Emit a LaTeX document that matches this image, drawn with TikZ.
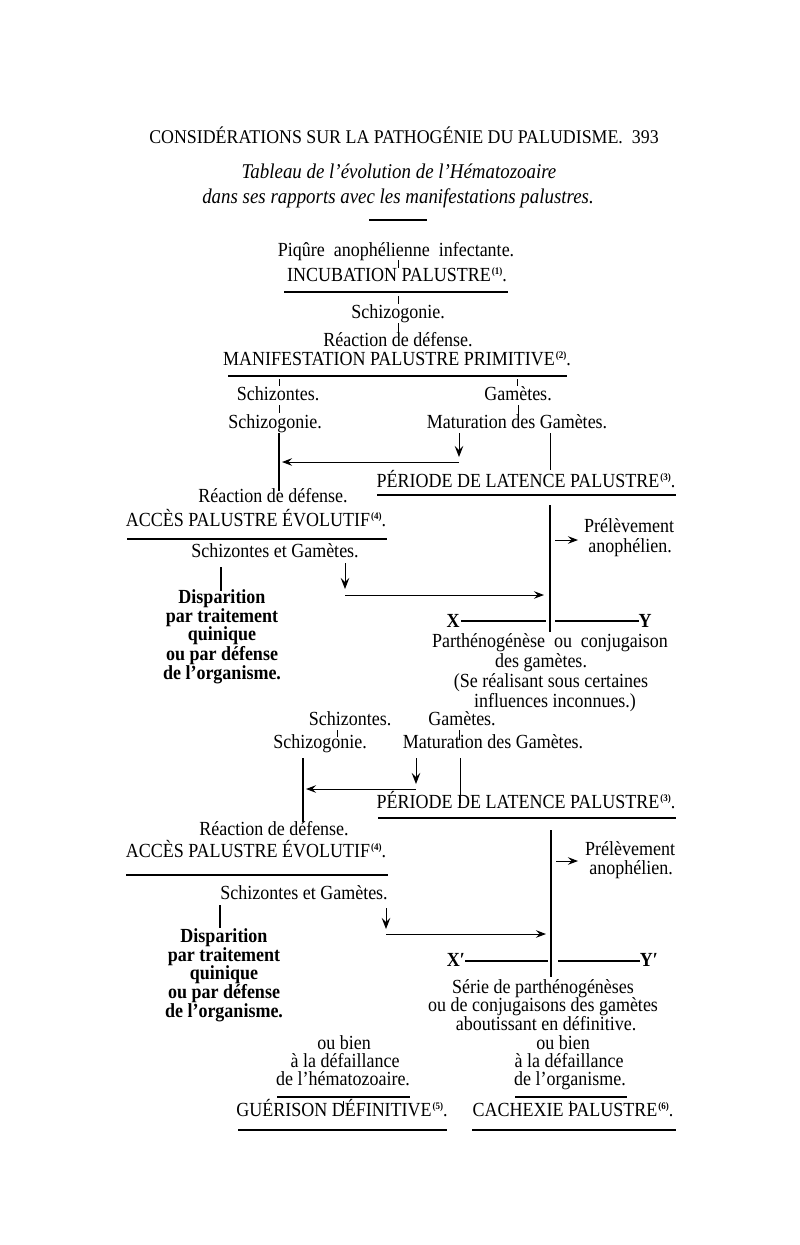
\documentclass[tikz,border=0pt]{standalone}
\usepackage{fontspec}
\setmainfont{Liberation Serif}[FakeStretch=0.9]
\newfontfamily\medf{Liberation Serif}[Ligatures=TeX,FakeStretch=0.9]
\newfontfamily\hdf{Liberation Serif}[Ligatures=TeX,FakeStretch=0.92]
\usetikzlibrary{arrows.meta}
\newcommand\fnum[1]{\kern1pt{\fontsize{10}{10}\selectfont\raisebox{6.5pt}{\bfseries(#1)}}}
\tikzset{
  txt/.style={anchor=base, inner sep=0pt, font=\medf\fontsize{20}{22}\selectfont},
  btxt/.style={anchor=base, inner sep=0pt, font=\fontsize{20}{22}\selectfont\bfseries},
  hdtxt/.style={anchor=base, inner sep=0pt, font=\hdf\fontsize{19.4}{21}\selectfont},
  ittxt/.style={anchor=base, inner sep=0pt, font=\fontsize{21}{23}\selectfont\itshape},
  rulel/.style={line width=1.5pt},
  tick/.style={line width=0.8pt},
  conn/.style={line width=1.1pt},
  arr/.style={line width=1pt, -{Stealth[length=11pt,width=8.5pt,inset=4pt]}},
  sarr/.style={line width=1pt, -{Stealth[length=10pt,width=7.5pt,inset=3.5pt]}},
}
\begin{document}
\begin{tikzpicture}[x=1pt,y=-1pt]
\useasboundingbox[fill=white] (0,0) rectangle (800,1245);

% header and title
\node[hdtxt] (head) at (404,143) {CONSIDÉRATIONS\ SUR\ LA\ PATHOGÉNIE\ DU\ PALUDISME.\hspace{9pt}393};
\node[ittxt] (t1) at (399,178) {Tableau\ de\ l’évolution\ de\ l’Hématozoaire};
\node[ittxt] (t2) at (398,203) {dans\ ses\ rapports\ avec\ les\ manifestations\ palustres.};
\coordinate (r0a) at (369,220); \coordinate (r0b) at (427,220);
\draw[line width=1.2pt] (r0a) -- (r0b);

% top column
\node[txt] (piq) at (396,256) {Piqûre\ \ anophélienne\ \ infectante.};
\node[txt] (inc) at (397,281) {INCUBATION\ PALUSTRE\fnum{1}.};
\coordinate (r1a) at (284,292); \coordinate (r1b) at (508,292);
\draw[rulel] (r1a) -- (r1b);
\node[txt] (sch0) at (398,318) {Schizogonie.};
\node[txt] (rea0) at (398,346) {Réaction de défense.};
\node[txt] (man) at (397,365) {MANIFESTATION PALUSTRE PRIMITIVE\fnum{2}.};
\coordinate (r2a) at (228,376); \coordinate (r2b) at (567,376);
\draw[rulel] (r2a) -- (r2b);

\coordinate (k1a) at (398,260); \coordinate (k1b) at (398,268);
\coordinate (k2a) at (398,296); \coordinate (k2b) at (398,304);
\coordinate (k3a) at (398,323); \coordinate (k3b) at (398,336);
\draw[tick] (k1a) -- (k1b);
\draw[tick] (k2a) -- (k2b);
\draw[tick] (k3a) -- (k3b);

% first split
\node[txt] (schA) at (278,400) {Schizontes.};
\node[txt] (gamA) at (518,400) {Gamètes.};
\node[txt] (sgA) at (275,428) {Schizogonie.};
\node[txt] (matA) at (517,428) {Maturation des Gamètes.};
\coordinate (k4a) at (279,379); \coordinate (k4b) at (279,386);
\coordinate (k5a) at (517,379); \coordinate (k5b) at (517,386);
\coordinate (k6a) at (279,405); \coordinate (k6b) at (279,413);
\coordinate (k7a) at (518,405); \coordinate (k7b) at (518,416);
\draw[tick] (k4a) -- (k4b);
\draw[tick] (k5a) -- (k5b);
\draw[tick] (k6a) -- (k6b);
\draw[tick] (k7a) -- (k7b);

\coordinate (l1a) at (279,433); \coordinate (l1b) at (279,491);
\draw[conn] (l1a) -- (l1b);
\coordinate (d1a) at (459,433); \coordinate (d1b) at (459,457);
\draw[arr] (d1a) -- (d1b);
\coordinate (h1a) at (459,462); \coordinate (h1b) at (282,462);
\draw[sarr] (h1a) -- (h1b);
\coordinate (rv1a) at (550,433); \coordinate (rv1b) at (550,470);
\draw[tick] (rv1a) -- (rv1b);

\node[txt] (per1) at (526,487) {PÉRIODE DE LATENCE PALUSTRE\fnum{3}.};
\coordinate (r3a) at (377,495); \coordinate (r3b) at (676,495);
\draw[rulel] (r3a) -- (r3b);

% first acces
\node[txt] (rea1) at (273,502) {Réaction de défense.};
\node[txt] (acc1) at (256,526) {ACCÈS PALUSTRE ÉVOLUTIF\fnum{4}.};
\coordinate (r4a) at (127,539); \coordinate (r4b) at (387,539);
\draw[rulel] (r4a) -- (r4b);

\coordinate (rv2a) at (550,505); \coordinate (rv2b) at (550,632);
\draw[line width=1.4pt] (rv2a) -- (rv2b);
\coordinate (pa1a) at (555,540); \coordinate (pa1b) at (578,540);
\draw[sarr] (pa1a) -- (pa1b);
\node[txt] (prel1) at (629,532) {Prélèvement};
\node[txt] (ano1) at (630,552) {anophélien.};

\node[txt] (sg1) at (275,557) {Schizontes et Gamètes.};
\coordinate (ts1a) at (221,567); \coordinate (ts1b) at (221,591);
\draw[line width=2pt] (ts1a) -- (ts1b);
\coordinate (d2a) at (345,563); \coordinate (d2b) at (345,589);
\draw[arr] (d2a) -- (d2b);
\coordinate (h2a) at (345,595); \coordinate (h2b) at (544,595);
\draw[sarr] (h2a) -- (h2b);

\node[btxt] (disp1a) at (222,603) {Disparition};
\node[btxt] (disp1b) at (222,622) {par traitement};
\node[btxt] (disp1c) at (222,640) {quinique};
\node[btxt] (disp1d) at (222,660) {ou par défense};
\node[btxt] (disp1e) at (222,679) {de l’organisme.};

\node[btxt] (X1) at (453,627) {X};
\coordinate (x1a) at (461,621); \coordinate (x1b) at (546,621);
\draw[conn] (x1a) -- (x1b);
\coordinate (y1a) at (555,621); \coordinate (y1b) at (639,621);
\draw[conn] (y1a) -- (y1b);
\node[btxt] (Y1) at (645,627) {Y};

\node[txt] (parth) at (550,647) {Parthénogénèse\ \ ou\ \ conjugaison};
\node[txt] (desg) at (541,667) {des gamètes.};
\node[txt] (sere) at (551,687) {(Se réalisant sous certaines};
\node[txt] (infl) at (555,707) {influences inconnues.)};

% second split
\node[txt] (schB) at (350,725) {Schizontes.};
\node[txt] (gamB) at (462,725) {Gamètes.};
\node[txt] (sgB) at (320,748) {Schizogonie.};
\node[txt] (matB) at (493,748) {Maturation des Gamètes.};
\coordinate (k8a) at (337,730); \coordinate (k8b) at (337,737);
\coordinate (k9a) at (459,730); \coordinate (k9b) at (459,740);
\draw[tick] (k8a) -- (k8b);
\draw[tick] (k9a) -- (k9b);

\coordinate (l2a) at (303,758); \coordinate (l2b) at (303,822);
\draw[conn] (l2a) -- (l2b);
\coordinate (d3a) at (416,758); \coordinate (d3b) at (416,784);
\draw[arr] (d3a) -- (d3b);
\coordinate (h3a) at (416,789); \coordinate (h3b) at (306,789);
\draw[sarr] (h3a) -- (h3b);
\coordinate (rv3a) at (460,758); \coordinate (rv3b) at (460,803);
\draw[tick] (rv3a) -- (rv3b);

\node[txt] (per2) at (526,808) {PÉRIODE DE LATENCE PALUSTRE\fnum{3}.};
\coordinate (r5a) at (378,818); \coordinate (r5b) at (676,818);
\draw[rulel] (r5a) -- (r5b);

% second acces
\node[txt] (rea2) at (274,835) {Réaction de défense.};
\node[txt] (acc2) at (256,857) {ACCÈS PALUSTRE ÉVOLUTIF\fnum{4}.};
\coordinate (r6a) at (126,875); \coordinate (r6b) at (388,875);
\draw[rulel] (r6a) -- (r6b);

\coordinate (rv4a) at (551,830); \coordinate (rv4b) at (551,977);
\draw[line width=1.4pt] (rv4a) -- (rv4b);
\coordinate (pa2a) at (556,861); \coordinate (pa2b) at (578,861);
\draw[sarr] (pa2a) -- (pa2b);
\node[txt] (prel2) at (630,855) {Prélèvement};
\node[txt] (ano2) at (631,874) {anophélien.};

\node[txt] (sg2) at (304,899) {Schizontes et Gamètes.};
\coordinate (ts2a) at (220,905); \coordinate (ts2b) at (220,928);
\draw[line width=2pt] (ts2a) -- (ts2b);
\coordinate (d4a) at (386,908); \coordinate (d4b) at (386,929);
\draw[arr] (d4a) -- (d4b);
\coordinate (h4a) at (386,934); \coordinate (h4b) at (546,934);
\draw[sarr] (h4a) -- (h4b);

\node[btxt] (disp2a) at (224,942) {Disparition};
\node[btxt] (disp2b) at (224,961) {par traitement};
\node[btxt] (disp2c) at (224,979) {quinique};
\node[btxt] (disp2d) at (224,998) {ou par défense};
\node[btxt] (disp2e) at (224,1017) {de l’organisme.};

\node[btxt] (X2) at (456,966) {X′};
\coordinate (x2a) at (465,961); \coordinate (x2b) at (548,961);
\draw[conn] (x2a) -- (x2b);
\coordinate (y2a) at (558,961); \coordinate (y2b) at (640,961);
\draw[conn] (y2a) -- (y2b);
\node[btxt] (Y2) at (649,966) {Y′};

\node[txt] (serie) at (543,993) {Série de parthénogénèses};
\node[txt] (ouconj) at (543,1011) {ou de conjugaisons des gamètes};
\node[txt] (abou) at (546,1030) {aboutissant en définitive.};

% endings
\node[txt] (oubL) at (344,1049) {ou bien};
\node[txt] (alaL) at (345,1067) {à la défaillance};
\node[txt] (hemL) at (343,1085) {de l’hématozoaire.};
\coordinate (r7a) at (277,1097); \coordinate (r7b) at (410,1097);
\draw[rulel] (r7a) -- (r7b);
\node[txt] (guer) at (342,1116) {GUÉRISON DÉFINITIVE\fnum{5}.};
\coordinate (k10a) at (343,1101); \coordinate (k10b) at (343,1107);
\draw[tick] (k10a) -- (k10b);
\coordinate (r8a) at (238,1130); \coordinate (r8b) at (447,1130);
\draw[rulel] (r8a) -- (r8b);

\node[txt] (oubR) at (563,1049) {ou bien};
\node[txt] (alaR) at (569,1067) {à la défaillance};
\node[txt] (orgR) at (570,1085) {de l’organisme.};
\coordinate (r9a) at (515,1097); \coordinate (r9b) at (627,1097);
\draw[rulel] (r9a) -- (r9b);
\node[txt] (cach) at (573,1116) {CACHEXIE PALUSTRE\fnum{6}.};
\coordinate (k11a) at (570,1101); \coordinate (k11b) at (570,1107);
\draw[tick] (k11a) -- (k11b);
\coordinate (r10a) at (472,1130); \coordinate (r10b) at (676,1130);
\draw[rulel] (r10a) -- (r10b);
\end{tikzpicture}
\end{document}
